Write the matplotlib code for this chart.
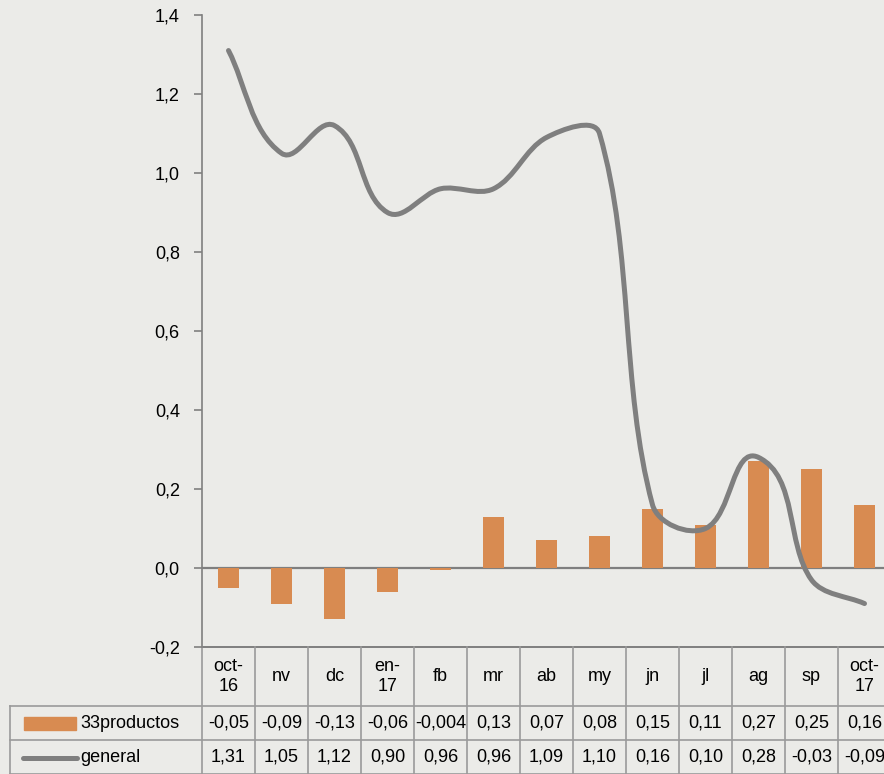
import matplotlib
matplotlib.use("Agg")
import matplotlib.pyplot as plt
import matplotlib.transforms as mtrans
from matplotlib.path import Path
from matplotlib.patches import PathPatch, Rectangle
import numpy as np

categories = ["oct-\n16", "nv", "dc", "en-\n17", "fb", "mr", "ab", "my", "jn", "jl", "ag", "sp", "oct-\n17"]
productos33 = [-0.05, -0.09, -0.13, -0.06, -0.004, 0.13, 0.07, 0.08, 0.15, 0.11, 0.27, 0.25, 0.16]
general = [1.31, 1.05, 1.12, 0.90, 0.96, 0.96, 1.09, 1.10, 0.16, 0.10, 0.28, -0.03, -0.09]
prod_labels = ["-0,05", "-0,09", "-0,13", "-0,06", "-0,004", "0,13", "0,07", "0,08", "0,15", "0,11", "0,27", "0,25", "0,16"]
gen_labels = ["1,31", "1,05", "1,12", "0,90", "0,96", "0,96", "1,09", "1,10", "0,16", "0,10", "0,28", "-0,03", "-0,09"]
series_names = ["33productos", "general"]
yticks = [-0.2, 0.0, 0.2, 0.4, 0.6, 0.8, 1.0, 1.2, 1.4]
ytick_labels = ["-0,2", "0,0", "0,2", "0,4", "0,6", "0,8", "1,0", "1,2", "1,4"]

plt.rcParams['font.family'] = ['Liberation Sans Narrow', 'Liberation Sans', 'DejaVu Sans']

W, H = 884, 774
fig = plt.figure(figsize=(W / 100, H / 100), dpi=100)
bg = "#ebebe8"
fig.patch.set_facecolor(bg)

def fy(p):
    return 1 - p / H

def fx(p):
    return p / W

ax = fig.add_axes([fx(202), fy(647), (891 - 202) / W, (647 - 15) / H])
ax.set_facecolor("none")

orange = "#d88b51"
gray_line = "#7f7f7f"
grid_c = "#9a9a9a"

x = np.arange(len(categories))
ax.bar(x, productos33, width=0.40, color=orange, zorder=2)

ax.set_xlim(-0.5, len(categories) - 0.5)
ax.set_ylim(-0.2, 1.4)

# smoothed line (Excel-like smoothing computed in display space)
disp = ax.transData.transform(np.column_stack([x, general]).astype(float))
n = len(disp)
tension = 0.33
verts = [disp[0]]
codes = [Path.MOVETO]
def tangent(i):
    a = disp[i - 1] if i > 0 else disp[i]
    b = disp[i + 1] if i < n - 1 else disp[i]
    d = b - a
    return d / np.hypot(*d)
for i in range(n - 1):
    p1, p2 = disp[i], disp[i + 1]
    L = np.hypot(*(p2 - p1))
    c1 = p1 + tangent(i) * L * tension
    c2 = p2 - tangent(i + 1) * L * tension
    verts += [c1, c2, p2]
    codes += [Path.CURVE4] * 3
verts_data = ax.transData.inverted().transform(np.array(verts))
path = Path(verts_data, codes)
ax.add_patch(PathPatch(path, facecolor="none", edgecolor=gray_line, lw=3.6,
                       capstyle="round", joinstyle="round", zorder=3, clip_on=False))

ax.set_yticks(yticks)
ax.set_yticklabels(ytick_labels, fontsize=13)
ax.set_xticks([])
for s in ["top", "right", "bottom"]:
    ax.spines[s].set_visible(False)
ax.spines["left"].set_color(gray_line)
ax.spines["left"].set_linewidth(1.2)
ax.tick_params(axis="y", length=6, width=1.2, color=gray_line, pad=10)
ax.axhline(0, color=gray_line, lw=1.6, zorder=1)

# data table
bt = mtrans.blended_transform_factory(ax.transData, fig.transFigure)
rows = [647, 706, 740, 774]
ax.plot([-0.5, len(categories) - 0.5], [fy(647)] * 2, transform=bt, color=gray_line, lw=1.4, clip_on=False)
for r in rows[1:]:
    fig.add_artist(plt.Line2D([fx(10), 1.0], [fy(r)] * 2, color=grid_c, lw=1.2))
fig.add_artist(plt.Line2D([fx(10)] * 2, [fy(706), fy(774)], color=grid_c, lw=1.2))
for i in range(len(categories) + 1):
    ax.plot([i - 0.5] * 2, [fy(647), fy(774)], transform=bt, color=grid_c, lw=1.2, clip_on=False)

fs = 13
for i, c in enumerate(categories):
    ax.text(i, fy(676.5), c, transform=bt, ha="center", va="center", fontsize=fs, linespacing=1.3)
    ax.text(i, fy(723), prod_labels[i], transform=bt, ha="center", va="center", fontsize=fs)
    ax.text(i, fy(757), gen_labels[i], transform=bt, ha="center", va="center", fontsize=fs)

fig.add_artist(Rectangle((fx(24), fy(730)), fx(52), fy(717) - fy(730), color=orange))
fig.text(fx(80), fy(723), series_names[0], ha="left", va="center", fontsize=fs)
fig.add_artist(plt.Line2D([fx(23), fx(77)], [fy(758)] * 2, color=gray_line, lw=3.6, solid_capstyle="round"))
fig.text(fx(80), fy(757), series_names[1], ha="left", va="center", fontsize=fs)

fig.savefig("out.png", dpi=100, facecolor=bg)
